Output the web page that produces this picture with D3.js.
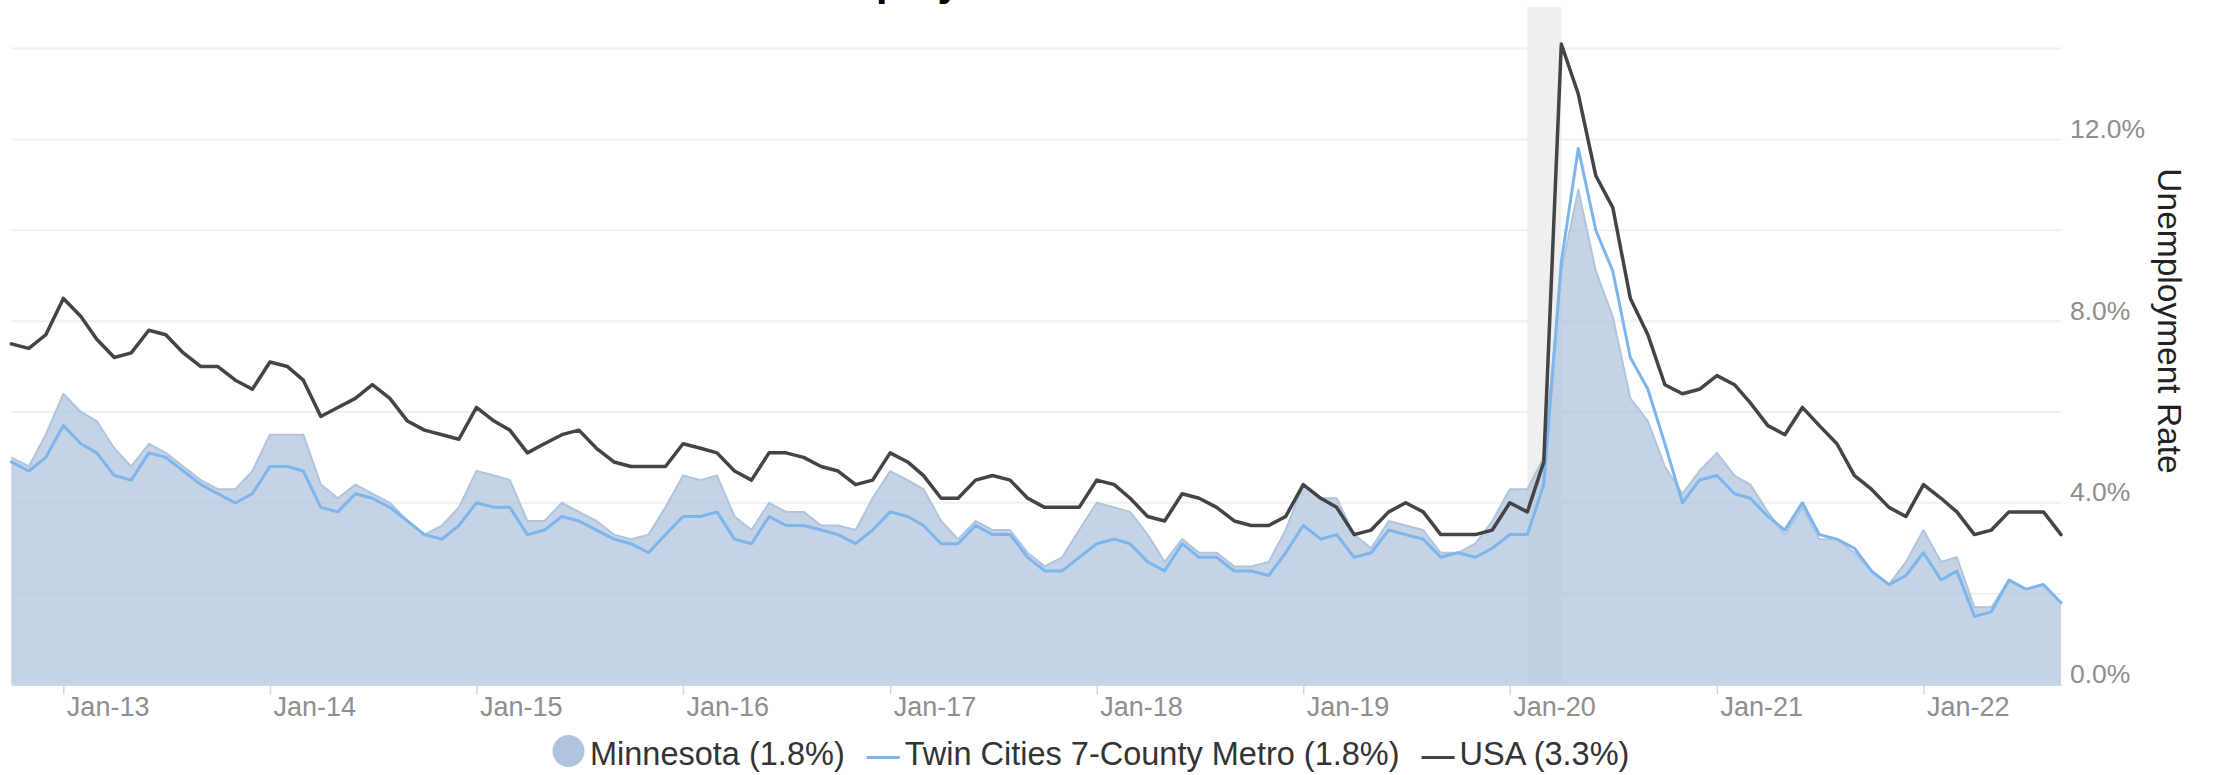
<!DOCTYPE html>
<html>
<head>
<meta charset="utf-8">
<script src="https://cdn.jsdelivr.net/npm/d3@7"></script>
<style>
  body { margin: 0; background: #fff; }
  svg { display: block; font-family: "Liberation Sans", Arial, sans-serif; }
</style>
</head>
<body>
<svg id="chart"></svg>
<script>
// monthly, Oct 2012 .. Sep 2022
var months = d3.timeMonth.range(new Date(2012, 9, 1), new Date(2022, 9, 1));

var minnesota = [
  5.0, 4.8, 5.5,
  6.4, 6.0, 5.8, 5.2, 4.8, 5.3, 5.1, 4.8, 4.5, 4.3, 4.3, 4.7,
  5.5, 5.5, 5.5, 4.4, 4.1, 4.4, 4.2, 4.0, 3.6, 3.3, 3.5, 3.9,
  4.7, 4.6, 4.5, 3.6, 3.6, 4.0, 3.8, 3.6, 3.3, 3.2, 3.3, 3.9,
  4.6, 4.5, 4.6, 3.7, 3.4, 4.0, 3.8, 3.8, 3.5, 3.5, 3.4, 4.1,
  4.7, 4.5, 4.3, 3.6, 3.2, 3.6, 3.4, 3.4, 2.9, 2.6, 2.8, 3.4,
  4.0, 3.9, 3.8, 3.3, 2.7, 3.2, 2.9, 2.9, 2.6, 2.6, 2.7, 3.4,
  4.4, 4.1, 4.1, 3.3, 3.0, 3.6, 3.5, 3.4, 2.9, 2.9, 3.1, 3.6,
  4.3, 4.3, 5.0, 9.1, 10.9, 9.1, 8.1, 6.3, 5.8, 4.8, 4.2, 4.7,
  5.1, 4.6, 4.4, 3.8, 3.3, 3.9, 3.2, 3.2, 2.9, 2.5, 2.2, 2.7,
  3.4, 2.7, 2.8, 1.7, 1.7, 2.3, 2.1, 2.2, 1.8
];

var twinCities = [
  4.9, 4.7, 5.0,
  5.7, 5.3, 5.1, 4.6, 4.5, 5.1, 5.0, 4.7, 4.4, 4.2, 4.0, 4.2,
  4.8, 4.8, 4.7, 3.9, 3.8, 4.2, 4.1, 3.9, 3.6, 3.3, 3.2, 3.5,
  4.0, 3.9, 3.9, 3.3, 3.4, 3.7, 3.6, 3.4, 3.2, 3.1, 2.9, 3.3,
  3.7, 3.7, 3.8, 3.2, 3.1, 3.7, 3.5, 3.5, 3.4, 3.3, 3.1, 3.4,
  3.8, 3.7, 3.5, 3.1, 3.1, 3.5, 3.3, 3.3, 2.8, 2.5, 2.5, 2.8,
  3.1, 3.2, 3.1, 2.7, 2.5, 3.1, 2.8, 2.8, 2.5, 2.5, 2.4, 2.9,
  3.5, 3.2, 3.3, 2.8, 2.9, 3.4, 3.3, 3.2, 2.8, 2.9, 2.8, 3.0,
  3.3, 3.3, 4.4, 9.3, 11.8, 10.0, 9.1, 7.2, 6.5, 5.3, 4.0, 4.5,
  4.6, 4.2, 4.1, 3.7, 3.4, 4.0, 3.3, 3.2, 3.0, 2.5, 2.2, 2.4,
  2.9, 2.3, 2.5, 1.5, 1.6, 2.3, 2.1, 2.2, 1.8
];

var usa = [
  7.5, 7.4, 7.7,
  8.5, 8.1, 7.6, 7.2, 7.3, 7.8, 7.7, 7.3, 7.0, 7.0, 6.7, 6.5,
  7.1, 7.0, 6.7, 5.9, 6.1, 6.3, 6.6, 6.3, 5.8, 5.6, 5.5, 5.4,
  6.1, 5.8, 5.6, 5.1, 5.3, 5.5, 5.6, 5.2, 4.9, 4.8, 4.8, 4.8,
  5.3, 5.2, 5.1, 4.7, 4.5, 5.1, 5.1, 5.0, 4.8, 4.7, 4.4, 4.5,
  5.1, 4.9, 4.6, 4.1, 4.1, 4.5, 4.6, 4.5, 4.1, 3.9, 3.9, 3.9,
  4.5, 4.4, 4.1, 3.7, 3.6, 4.2, 4.1, 3.9, 3.6, 3.5, 3.5, 3.7,
  4.4, 4.1, 3.9, 3.3, 3.4, 3.8, 4.0, 3.8, 3.3, 3.3, 3.3, 3.4,
  4.0, 3.8, 4.9, 14.1, 13.0, 11.2, 10.5, 8.5, 7.7, 6.6, 6.4, 6.5,
  6.8, 6.6, 6.2, 5.7, 5.5, 6.1, 5.7, 5.3, 4.6, 4.3, 3.9, 3.7,
  4.4, 4.1, 3.8, 3.3, 3.4, 3.8, 3.8, 3.8, 3.3
];

var xTickDates = [2013, 2014, 2015, 2016, 2017, 2018, 2019, 2020, 2021, 2022].map(function (yr) { return new Date(yr, 0, 1); });
var yLabelValues = [0, 4, 8, 12];
var gridValues = [0, 2, 4, 6, 8, 10, 12, 14];
var recession = [new Date(2020, 1, 1), new Date(2020, 3, 1)];

var legendNames = ["Minnesota (1.8%)", "Twin Cities 7-County Metro (1.8%)", "USA (3.3%)"];
var legendKinds = ["area", "line", "line"];
var legendColors = ["#b0c4de", "#7cb5ec", "#434348"];

var width = 2213, height = 775;
var plotLeft = 11.3, plotRight = 2061, plotTop = 7, plotBottom = 684.5;

var svg = d3.select("#chart").attr("width", width).attr("height", height);

var x = d3.scaleTime()
    .domain([months[0], months[months.length - 1]])
    .range([plotLeft, plotRight]);

var y = d3.scaleLinear()
    .domain([0, 14])
    .range([plotBottom, 48.6]);

var rows = months.map(function (m, i) {
  return {date: m, mn: minnesota[i], tc: twinCities[i], us: usa[i]};
});

// grid
svg.append("g")
  .selectAll("line")
  .data(gridValues.slice(1))
  .enter().append("line")
  .attr("x1", plotLeft).attr("x2", plotRight)
  .attr("y1", function (d) { return y(d); })
  .attr("y2", function (d) { return y(d); })
  .style("stroke", "#efefef")
  .style("stroke-width", 2);

// recession band
svg.append("rect")
  .attr("x", x(recession[0]))
  .attr("width", x(recession[1]) - x(recession[0]))
  .attr("y", plotTop)
  .attr("height", plotBottom - plotTop)
  .style("fill", "#efefef");

// Minnesota area
var area = d3.area()
    .x(function (d) { return x(d.date); })
    .y0(y(0))
    .y1(function (d) { return y(d.mn); });

svg.append("path")
  .datum(rows)
  .attr("d", area)
  .style("fill", "#b0c4de")
  .style("fill-opacity", 0.75);

function lineFor(key) {
  return d3.line()
    .x(function (d) { return x(d.date); })
    .y(function (d) { return y(d[key]); });
}

svg.append("path")
  .datum(rows)
  .attr("d", lineFor("mn"))
  .style("fill", "none")
  .style("stroke", "#b0c4de")
  .style("stroke-width", 2)
  .style("stroke-linejoin", "round");

svg.append("path")
  .datum(rows)
  .attr("d", lineFor("tc"))
  .style("fill", "none")
  .style("stroke", "#7cb5ec")
  .style("stroke-width", 3)
  .style("stroke-linejoin", "round")
  .style("stroke-linecap", "round");

svg.append("path")
  .datum(rows)
  .attr("d", lineFor("us"))
  .style("fill", "none")
  .style("stroke", "#434348")
  .style("stroke-width", 3.5)
  .style("stroke-linejoin", "round")
  .style("stroke-linecap", "round");

// x axis
var xAxis = svg.append("g")
  .attr("transform", "translate(0," + plotBottom + ")")
  .call(d3.axisBottom(x)
    .tickValues(xTickDates)
    .tickFormat(d3.timeFormat("Jan-%y"))
    .tickSizeInner(10)
    .tickSizeOuter(0));

xAxis.select(".domain").style("stroke", "#ccd6eb").style("stroke-width", 2);
xAxis.selectAll(".tick line").style("stroke", "#ccd6eb").style("stroke-width", 1.5);
xAxis.selectAll(".tick text")
  .attr("x", 3)
  .attr("y", 31.5)
  .attr("dy", null)
  .attr("text-anchor", "start")
  .style("font-family", "'Liberation Sans', Arial, sans-serif")
  .style("font-size", "27px")
  .style("fill", "#8e8e8e");

// y axis (right)
var yAxis = svg.append("g")
  .attr("transform", "translate(2070,0)")
  .call(d3.axisRight(y)
    .tickValues(yLabelValues)
    .tickFormat(function (d) { return d.toFixed(1) + "%"; })
    .tickSize(0)
    .tickPadding(0));

yAxis.select(".domain").remove();
yAxis.selectAll(".tick text")
  .attr("x", 0)
  .attr("y", -2)
  .attr("dy", null)
  .style("font-family", "'Liberation Sans', Arial, sans-serif")
  .style("font-size", "26.5px")
  .style("fill", "#8e8e8e");

svg.append("text")
  .attr("transform", "translate(2158,321) rotate(90)")
  .attr("text-anchor", "middle")
  .style("font-size", "33.5px")
  .style("fill", "#222")
  .text("Unemployment Rate");

// title, mostly above the visible area (as in the original crop)
svg.append("text")
  .attr("x", 762)
  .attr("y", -4)
  .style("font-size", "41px")
  .style("font-weight", "bold")
  .style("fill", "#000")
  .text("Unemployment Rate");

// legend
var legend = svg.append("g");
var cur = 552;
legendNames.forEach(function (name, i) {
  if (legendKinds[i] === "area") {
    legend.append("circle")
      .attr("cx", cur + 16.5).attr("cy", 751).attr("r", 16)
      .style("fill", legendColors[i]);
  } else {
    legend.append("line")
      .attr("x1", cur).attr("x2", cur + 33)
      .attr("y1", 757.5).attr("y2", 757.5)
      .style("stroke", legendColors[i])
      .style("stroke-width", 3);
  }
  var t = legend.append("text")
    .attr("x", cur + 38)
    .attr("y", 765)
    .style("font-size", "32.5px")
    .style("fill", "#333")
    .text(name);
  cur = cur + 38 + t.node().getComputedTextLength() + 22;
});
</script>
</body>
</html>
